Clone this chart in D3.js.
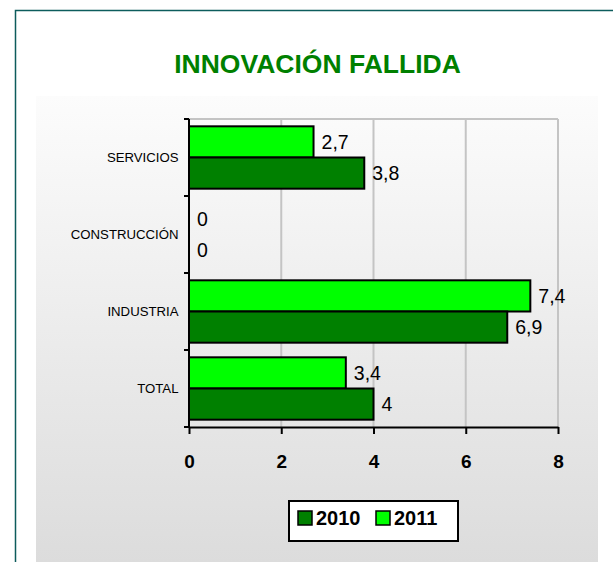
<!DOCTYPE html>
<html>
<head>
<meta charset="utf-8">
<script src="https://cdn.jsdelivr.net/npm/d3@7"></script>
<style>
  body { margin: 0; background: #fff; }
  svg { display: block; font-family: "Liberation Sans", Arial, sans-serif; }
</style>
</head>
<body>
<div id="chart"></div>
<script>
const categories = ['SERVICIOS', 'CONSTRUCCIÓN', 'INDUSTRIA', 'TOTAL']
const years = ['2011', '2010']
const values2010 = [3.8, 0, 6.9, 4]
const values2011 = [2.7, 0, 7.4, 3.4]
const xTicks = [0, 2, 4, 6, 8]
const colors = { '2010': '#008000', '2011': '#00ff00' }

const width = 613
const height = 562
const svg = d3.select('#chart').append('svg')
  .attr('width', width)
  .attr('height', height)

// background gradient of the chart area
const defs = svg.append('defs')
const grad = defs.append('linearGradient')
  .attr('id', 'bg')
  .attr('x1', 0).attr('y1', 0).attr('x2', 0).attr('y2', 1)
grad.append('stop').attr('offset', '0%').attr('stop-color', '#fcfcfc')
grad.append('stop').attr('offset', '100%').attr('stop-color', '#dcdcdc')

svg.append('rect')
  .attr('x', 36).attr('y', 96)
  .attr('width', 562).attr('height', height - 96)
  .attr('fill', 'url(#bg)')

// outer frame
svg.append('path')
  .attr('d', `M15.5,${height} V10.5 H${width}`)
  .attr('fill', 'none')
  .attr('stroke', '#0d5c5c')
  .attr('stroke-width', 1.5)

svg.append('text')
  .attr('x', 317.5).attr('y', 73)
  .attr('text-anchor', 'middle')
  .attr('font-size', 26.5).attr('font-weight', 'bold')
  .attr('fill', '#008000')
  .text('INNOVACIÓN FALLIDA')

const plot = { left: 189, right: 558, top: 119, bottom: 427 }

const x = d3.scaleLinear().domain([0, 8]).range([plot.left, plot.right])
const y = d3.scaleBand().domain(categories).range([plot.top, plot.bottom])
  .paddingInner(0.19).paddingOuter(0.095)
const yInner = d3.scaleBand().domain(years).range([0, y.bandwidth()])

// gridlines and plot frame
svg.append('g')
  .selectAll('line')
  .data(xTicks.slice(1))
  .join('line')
  .attr('x1', d => x(d)).attr('x2', d => x(d))
  .attr('y1', plot.top).attr('y2', plot.bottom)
  .attr('stroke', '#c4c4c4').attr('stroke-width', 2)
svg.append('line')
  .attr('x1', plot.left).attr('x2', plot.right)
  .attr('y1', plot.top).attr('y2', plot.top)
  .attr('stroke', '#c4c4c4').attr('stroke-width', 2)

const rows = categories.map((c, i) => ({ cat: c, '2010': values2010[i], '2011': values2011[i] }))

const group = svg.append('g')
  .selectAll('g')
  .data(rows)
  .join('g')
  .attr('transform', d => `translate(0,${y(d.cat)})`)

group.selectAll('rect')
  .data(d => years.map(k => ({ key: k, value: d[k] })))
  .join('rect')
  .attr('x', x(0))
  .attr('y', d => yInner(d.key))
  .attr('width', d => x(d.value) - x(0))
  .attr('height', yInner.bandwidth())
  .attr('fill', d => colors[d.key])
  .attr('stroke', d => d.value > 0 ? '#000' : 'none')
  .attr('stroke-width', 2)

group.selectAll('text')
  .data(d => years.map(k => ({ key: k, value: d[k] })))
  .join('text')
  .attr('x', d => x(d.value) + 8)
  .attr('y', d => yInner(d.key) + yInner.bandwidth() / 2 + 7)
  .attr('font-size', 19.5)
  .attr('fill', '#000')
  .text(d => String(d.value).replace('.', ','))

// y axis
const yAxisTicks = [plot.top, ...categories.map(c => y(c) + y.bandwidth() + y.step() * y.paddingInner() / 2)]
svg.append('g')
  .selectAll('line')
  .data(yAxisTicks)
  .join('line')
  .attr('x1', plot.left - 5).attr('x2', plot.left)
  .attr('y1', d => Math.min(d, plot.bottom)).attr('y2', d => Math.min(d, plot.bottom))
  .attr('stroke', '#000').attr('stroke-width', 2)
svg.append('line')
  .attr('x1', plot.left).attr('x2', plot.left)
  .attr('y1', plot.top).attr('y2', plot.bottom)
  .attr('stroke', '#000').attr('stroke-width', 2)

svg.append('g')
  .selectAll('text')
  .data(categories)
  .join('text')
  .attr('x', 178.5)
  .attr('y', d => y(d) + y.bandwidth() / 2 + 4.5)
  .attr('text-anchor', 'end')
  .attr('font-size', 13.2)
  .attr('fill', '#000')
  .text(d => d)

// x axis
const xAxis = svg.append('g')
  .attr('transform', `translate(0,${plot.bottom})`)
  .call(d3.axisBottom(x).tickValues(xTicks).tickSize(7).tickPadding(21).tickSizeOuter(0))
xAxis.select('.domain').attr('stroke', '#000').attr('stroke-width', 2)
xAxis.selectAll('.tick line').attr('stroke', '#000').attr('stroke-width', 2)
xAxis.selectAll('.tick text')
  .attr('font-size', 19).attr('font-weight', 'bold')
  .attr('font-family', '"Liberation Sans", Arial, sans-serif')
  .attr('fill', '#000')

// legend
const legend = svg.append('g').attr('transform', 'translate(289,501)')
legend.append('rect')
  .attr('width', 169).attr('height', 40)
  .attr('fill', '#fff').attr('stroke', '#000').attr('stroke-width', 2)
const legendItems = [{ key: '2010', x: 9 }, { key: '2011', x: 87 }]
legendItems.forEach(it => {
  legend.append('rect')
    .attr('x', it.x).attr('y', 10)
    .attr('width', 14).attr('height', 14)
    .attr('fill', colors[it.key]).attr('stroke', '#000').attr('stroke-width', 1.5)
  legend.append('text')
    .attr('x', it.x + 18).attr('y', 24)
    .attr('font-size', 20).attr('font-weight', 'bold')
    .attr('fill', '#000')
    .text(it.key)
})
</script>
</body>
</html>
